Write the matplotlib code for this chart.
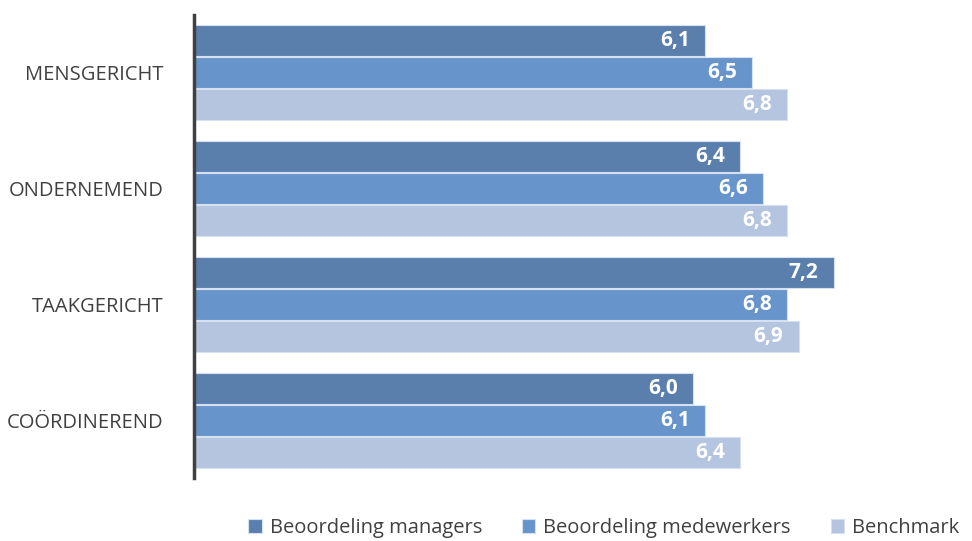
import matplotlib
matplotlib.use("Agg")
import matplotlib.pyplot as plt
import numpy as np

categories = ["MENSGERICHT", "ONDERNEMEND", "TAAKGERICHT", "COÖRDINEREND"]
series_names = ["Beoordeling managers", "Beoordeling medewerkers", "Benchmark"]
managers = [6.1, 6.4, 7.2, 6.0]
medewerkers = [6.5, 6.6, 6.8, 6.1]
benchmark = [6.8, 6.8, 6.9, 6.4]
colors = ["#5b7fad", "#6795cb", "#b5c4df"]

plt.rcParams["font.family"] = ["Open Sans", "DejaVu Sans"]

fig = plt.figure(figsize=(9.72, 5.41), dpi=100)
ax = fig.add_axes([194 / 972, 1 - 478 / 541, (965 - 194) / 972, 463 / 541])

pitch = 32 / 116
height = 31 / 116
y = np.arange(len(categories))
for i, (vals, name, col) in enumerate(zip([managers, medewerkers, benchmark], series_names, colors)):
    pos = y + (i - 1) * pitch
    bars = ax.barh(pos, vals, height=height, color=col, edgecolor="#d7e0ee",
                   linewidth=0.8, label=name, zorder=2)
    for b, v in zip(bars, vals):
        ax.text(v - 0.13, b.get_y() + b.get_height() / 2, f"{v:.1f}".replace(".", ","),
                ha="right", va="center", color="white", fontsize=15,
                fontweight="bold", zorder=3)

ax.set_xlim(1.72, 1.72 + (965 - 194) / 116.7)
ax.set_ylim(3.5, -0.5)
ax.set_yticks(y)
ax.set_yticklabels(categories, fontsize=14.5, color="#404040")
ax.tick_params(axis="y", length=0, pad=22)
ax.set_xticks([])
for s in ["top", "right", "bottom"]:
    ax.spines[s].set_visible(False)
ax.spines["left"].set_color("#404040")
ax.spines["left"].set_linewidth(2.5)

leg = fig.legend(loc="center", bbox_to_anchor=(604 / 972, 1 - 528 / 541), ncol=3,
                 frameon=False, fontsize=14.5, labelcolor="#404040",
                 handlelength=0.65, handleheight=0.65, handletextpad=0.4,
                 columnspacing=2.0)

fig.savefig("out.png", dpi=100)
